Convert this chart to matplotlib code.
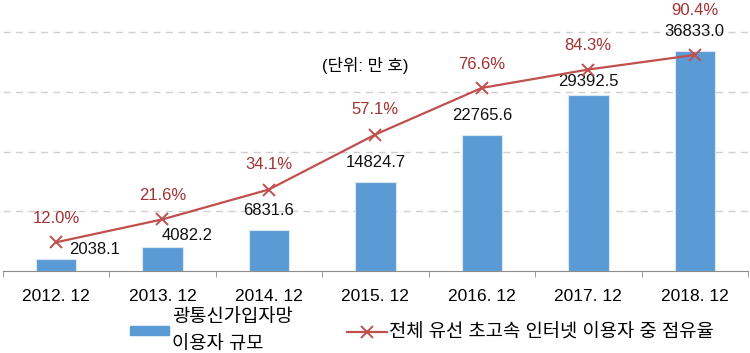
import numpy as np
import matplotlib
matplotlib.use('Agg')
import matplotlib.pyplot as plt
from matplotlib.lines import Line2D
from matplotlib.patches import Patch

plt.rcParams['font.family'] = ['Liberation Sans', 'Noto Sans CJK KR', 'DejaVu Sans']

# data
years = ['2012. 12', '2013. 12', '2014. 12', '2015. 12', '2016. 12', '2017. 12', '2018. 12']
users = [2038.1, 4082.2, 6831.6, 14824.7, 22765.6, 29392.5, 36833.0]
share = [12.0, 21.6, 34.1, 57.1, 76.6, 84.3, 90.4]

bar_label = '광통신가입자망\n이용자 규모'
line_label = '전체 유선 초고속 인터넷 이용자 중 점유율'
unit_text = '(단위: 만 호)'

bar_color = '#5B9BD5'
line_color = '#C0504D'
pct_color = '#A33232'

# label offsets (points) so labels dodge the line
bar_lbl_off = [(28, 7), (18, 8), (0, 14), (0, 14), (0, 14), (0, 10), (0, 14)]
pct_lbl_off = [(0, 17), (0, 17), (0, 18), (0, 18), (0, 17), (0, 17), (0, 32)]

fig = plt.figure(figsize=(7.5, 3.53), dpi=100)
ax = fig.add_axes([2.7 / 750, 1 - 271 / 353, (748 - 2.7) / 750, (271 - 32) / 353])
x = np.arange(len(years))

ax.bar(x, users, width=0.38, color=bar_color, edgecolor='#DCE6F2', linewidth=0.8, zorder=2)
ax.set_xlim(-0.5, len(years) - 0.5)
ax.set_ylim(0, 40000)
for v in [10000, 20000, 30000, 40000]:
    ax.axhline(v, color='#D0D0D0', lw=1, ls=(0, (5, 4)), zorder=1, clip_on=False)

for s in ['top', 'left', 'right']:
    ax.spines[s].set_visible(False)
ax.spines['bottom'].set_color('#8C8C8C')
ax.set_yticks([])
ax.set_xticks(x)
ax.set_xticklabels(years, fontsize=12.5)
ax.tick_params(axis='x', which='major', length=0, pad=13)
ax.set_xticks(np.arange(-0.5, len(years)), minor=True)
ax.tick_params(axis='x', which='minor', length=4, color='#8C8C8C', direction='out')

for i, v in enumerate(users):
    ax.annotate(f'{v:.1f}', (x[i], v), xytext=bar_lbl_off[i], textcoords='offset points',
                ha='center', va='center', fontsize=12, color='#111111', zorder=5)

ax2 = ax.twinx()
ax2.set_ylim(0, 100)
for s in ax2.spines.values():
    s.set_visible(False)
ax2.set_yticks([])
ax2.plot(x, share, color=line_color, lw=1.6, marker='x', markersize=9,
         markeredgewidth=1.4, zorder=4)
for i, v in enumerate(share):
    ax2.annotate(f'{v:.1f}%', (x[i], v), xytext=pct_lbl_off[i], textcoords='offset points',
                 ha='center', va='center', fontsize=12, color=pct_color, annotation_clip=False)

fig.text(365 / 750, 1 - 65 / 353, unit_text, ha='center', va='center', fontsize=12)

handles = [Patch(facecolor=bar_color, edgecolor=bar_color),
           Line2D([0], [0], color=line_color, lw=1.6, marker='x', markersize=9, markeredgewidth=1.4)]
leg = fig.legend(handles, [bar_label, line_label], loc='center', ncol=2, frameon=False,
                 bbox_to_anchor=(422 / 750, 1 - 331 / 353), fontsize=13.5,
                 handlelength=2.1, handletextpad=0.15, columnspacing=2.9, handleheight=0.35,
                 borderpad=0, borderaxespad=0)
for t in leg.get_texts():
    t.set_linespacing(1.75)

fig.savefig('out.png', dpi=100)
